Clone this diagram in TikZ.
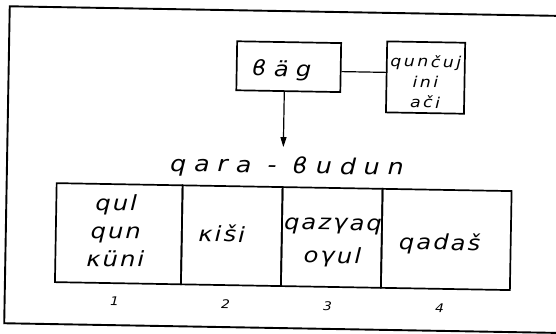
\documentclass[tikz,border=0pt]{standalone}
\usepackage{fontspec}
\setmainfont{DejaVu Sans}
\newfontfamily\handcell[FakeStretch=1.15,LetterSpace=10]{DejaVu Sans}
\newfontfamily\handtitle[FakeStretch=1.15,LetterSpace=36]{DejaVu Sans}
\newfontfamily\handbag[FakeStretch=1.15,LetterSpace=34]{DejaVu Sans}
\newfontfamily\handsmall[FakeStretch=1.15,LetterSpace=17]{DejaVu Sans}
\usetikzlibrary{arrows.meta}
\tikzset{
  box/.style={draw, line width=1.7pt, inner sep=0pt},
  cell/.style={draw, line width=1.7pt, minimum height=99pt, inner sep=0pt},
  txt/.style={font=\handcell\itshape\fontsize{21}{28}\selectfont, align=center, inner sep=0pt},
  num/.style={font=\handcell\itshape\fontsize{12}{14}\selectfont, inner sep=0pt},
  conn/.style={line width=1.2pt},
}
\begin{document}
\begin{tikzpicture}[x=1pt,y=1pt]
\useasboundingbox (0,0) rectangle (556,-333);
\begin{scope}[rotate around={-1:(278,-166)}, transform shape]
\coordinate (ftr) at (600,-11);
\coordinate (ftl) at (7,-11);
\coordinate (fbl) at (7,-328);
\coordinate (fbr) at (600,-328);
\draw[line width=1.9pt, line join=miter] (ftr) -- (ftl) -- (fbl) -- (fbr);
\node[box, minimum width=104pt, minimum height=49pt] (bag) at (287,-66.5) {};
\node[txt, font=\handbag\itshape\fontsize{21}{24}\selectfont] (bagt) at (280,-70.4) {ϐäg};
\node[box, minimum width=78pt, minimum height=71pt] (qun) at (424,-75) {};
\node[txt, font=\handsmall\itshape\fontsize{15}{20.5}\selectfont] (qunt) at (424,-79) {qunčuj\\ini\\ači};
\draw[conn] ([yshift=-4pt]bag.east) -- ([yshift=-4pt]bag.east -| qun.west);
\node[txt, font=\handtitle\itshape\fontsize{22}{26}\selectfont, anchor=base] (title) at (287,-173) {qara - ϐudun};
\coordinate (tip) at (283,-147);
\draw[conn, -{Triangle[length=10pt,width=6pt]}] (bag.south -| tip) -- (tip);
\node[cell, minimum width=126pt] (c1) at (120,-236.5) {};
\node[cell, minimum width=100pt] (c2) at (233,-236.5) {};
\node[cell, minimum width=100pt] (c3) at (333,-236.5) {};
\node[cell, minimum width=129pt] (c4) at (447.5,-236.5) {};
\node[txt] (t1) at (117,-233.6) {qul\\qun\\κüni};
\node[txt] (t2) at (223,-234.6) {κiši};
\node[txt, font=\handcell\itshape\fontsize{21}{33}\selectfont] (t3) at (334,-241.8) {qazγaq\\oγul};
\node[txt] (t4) at (441,-241) {qadaš};
\node[num] (n1) at (117,-304) {1};
\node[num] (n2) at (228,-305) {2};
\node[num] (n3) at (330,-305) {3};
\node[num] (n4) at (442,-305) {4};
\end{scope}
\end{tikzpicture}
\end{document}
